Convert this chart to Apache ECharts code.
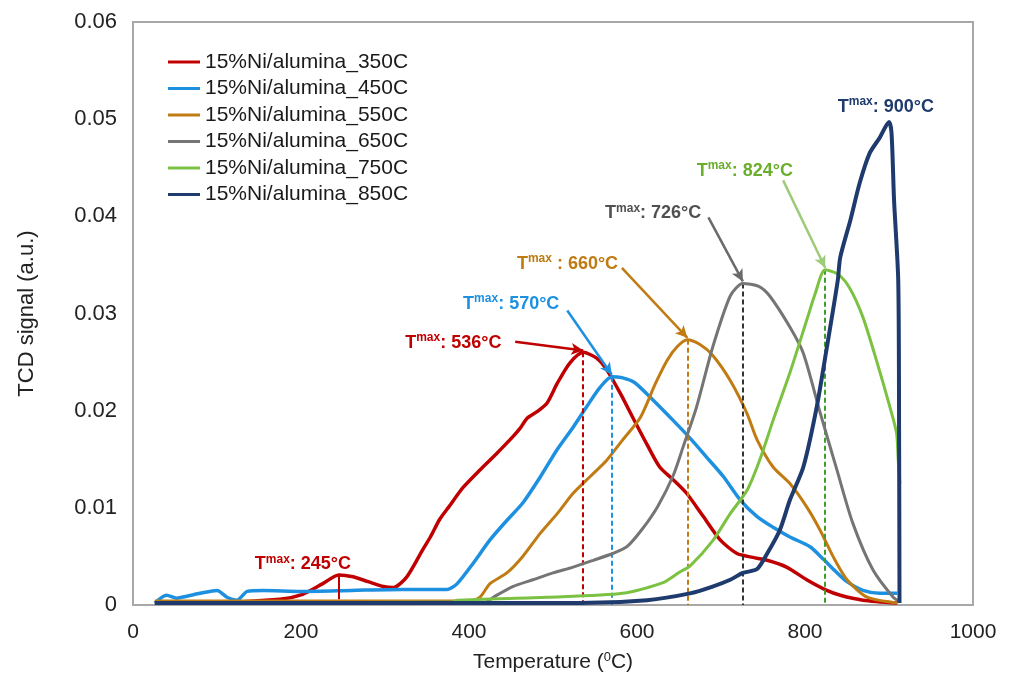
<!DOCTYPE html>
<html>
<head>
<meta charset="utf-8">
<script src="https://cdn.jsdelivr.net/npm/echarts@6/dist/echarts.min.js"></script>
<style>
  html, body { margin: 0; padding: 0; background: #fff; }
  #chart { width: 1010px; height: 675px; }
</style>
</head>
<body>
<div id="chart"></div>
<script>
// TPR profiles: temperature (°C) vs TCD signal (a.u.)
const seriesNames = [
  '15%Ni/alumina_350C', '15%Ni/alumina_450C', '15%Ni/alumina_550C',
  '15%Ni/alumina_650C', '15%Ni/alumina_750C', '15%Ni/alumina_850C'
];

const ni350 = [[26,0.0003],[100,0.0003],[175,0.0006],[202,0.0011],[226,0.0022],[245,0.0031],[262,0.0029],[280,0.0024],[298,0.0019],[310,0.0018],[326,0.0029],[345,0.0057],[354,0.0070],[365,0.0088],[376,0.0101],[393,0.0121],[413,0.0139],[433,0.0156],[452,0.0173],[461,0.0182],[469,0.0192],[481,0.0199],[493,0.0208],[505,0.0228],[520,0.0249],[536,0.0260],[552,0.0254],[564,0.0242],[580,0.0218],[595,0.0193],[612,0.0165],[627,0.0142],[643,0.0129],[659,0.0115],[679,0.0091],[699,0.0067],[719,0.0053],[738,0.0049],[755,0.0046],[778,0.0039],[802,0.0026],[826,0.0015],[842,0.0010],[869,0.0005],[910,0.0002]];

const ni450 = [[26,0.0002],[40,0.0010],[52,0.0007],[64,0.0009],[80,0.0012],[100,0.0015],[112,0.0008],[124,0.0005],[136,0.0014],[155,0.0015],[200,0.0014],[260,0.0015],[320,0.0016],[374,0.0016],[386,0.0022],[405,0.0043],[425,0.0067],[445,0.0087],[464,0.0105],[485,0.0132],[505,0.0160],[524,0.0183],[540,0.0204],[556,0.0224],[570,0.0235],[582,0.0234],[597,0.0229],[619,0.0211],[643,0.0190],[665,0.0170],[683,0.0152],[703,0.0132],[723,0.0108],[743,0.0091],[762,0.0080],[782,0.0070],[806,0.0060],[822,0.0047],[836,0.0035],[850,0.0024],[869,0.0015],[889,0.0012],[910,0.0012]];

const ni550 = [[26,0.0004],[200,0.0004],[400,0.0004],[413,0.0008],[425,0.0022],[445,0.0033],[464,0.0050],[485,0.0074],[505,0.0094],[524,0.0115],[544,0.0132],[564,0.0149],[583,0.0170],[604,0.0193],[622,0.0228],[636,0.0252],[648,0.0266],[660,0.0273],[675,0.0268],[690,0.0257],[711,0.0231],[731,0.0197],[743,0.0170],[762,0.0142],[782,0.0125],[802,0.0101],[818,0.0077],[834,0.0049],[850,0.0026],[874,0.0008],[910,0.0002]];

const ni650 = [[26,0.0002],[420,0.0003],[429,0.0008],[452,0.0019],[476,0.0026],[500,0.0033],[524,0.0039],[548,0.0046],[571,0.0053],[588,0.0060],[607,0.0079],[625,0.0102],[643,0.0133],[655,0.0163],[671,0.0204],[690,0.0265],[711,0.0318],[726,0.0331],[745,0.0328],[758,0.0318],[782,0.0286],[798,0.0259],[818,0.0198],[838,0.0139],[857,0.0084],[881,0.0036],[905,0.0008],[912,0.0004]];

const ni750 = [[26,0.0002],[380,0.0003],[386,0.0005],[493,0.0008],[583,0.0012],[631,0.0023],[651,0.0034],[663,0.0040],[690,0.0066],[711,0.0094],[731,0.0118],[746,0.0149],[762,0.0190],[782,0.0239],[802,0.0293],[812,0.0320],[824,0.0345],[840,0.0340],[854,0.0325],[869,0.0296],[885,0.0252],[901,0.0204],[909,0.0177],[911,0.0149],[913,0.0125]];

const ni850 = [[26,0.0002],[300,0.0002],[532,0.0002],[612,0.0005],[663,0.0012],[690,0.0019],[711,0.0026],[726,0.0033],[743,0.0037],[755,0.0053],[770,0.0077],[782,0.0108],[798,0.0142],[814,0.0204],[826,0.0265],[839,0.0334],[842,0.0358],[854,0.0396],[865,0.0434],[877,0.0465],[889,0.0481],[900,0.0497],[903,0.0486],[906,0.0417],[911,0.0334],[912,0.0177],[912.5,0.0002]];

// peak temperatures quoted in the annotations
const tmax = [536, 570, 660, 726, 824, 900];
const tmaxLow = 245;

const xTicks = [0, 200, 400, 600, 800, 1000];
const yTicks = [0, 0.01, 0.02, 0.03, 0.04, 0.05, 0.06];

const colors = ['#C00000', '#1E90E0', '#C07B12', '#757575', '#7CC242', '#1F3B6E'];
const textColors = ['#C00000', '#1E90E0', '#BF7A10', '#505050', '#6AAE2E', '#1F3B6E'];
const arrowColors = ['#C00000', '#1E90E0', '#C07B12', '#6A6A6A', '#9CCB7A', null];
const dashColors = ['#C00000', '#1E90E0', '#C07B12', '#333333', '#3E9E2A', null];
const widths = [3.5, 3.5, 3, 3, 3, 4];

const allData = [ni350, ni450, ni550, ni650, ni750, ni850];

function yAt(data, x) {
  for (let i = 1; i < data.length; i++) {
    const [x0, y0] = data[i - 1], [x1, y1] = data[i];
    if (x >= x0 && x <= x1) return x1 === x0 ? y1 : y0 + (y1 - y0) * (x - x0) / (x1 - x0);
  }
  return 0;
}

const FONT = 'Liberation Sans, Arial, sans-serif';

// annotation text placement (data coordinates of the text's left edge)
const labelAnchors = [[324, 0.0271], [393, 0.0311], [457, 0.0352], [562, 0.0404], [671, 0.0448], [839, 0.0514]];
const arrowStarts = [[455, 0.0271], [517, 0.0303], [582, 0.0347], [685, 0.0399], [774, 0.0437], null];

function richFor(color) {
  return {
    t: { fontFamily: FONT, fontWeight: 'bold', fontSize: 18, color: color, lineHeight: 20, verticalAlign: 'bottom' },
    s: { fontFamily: FONT, fontWeight: 'bold', fontSize: 12, color: color, lineHeight: 12, verticalAlign: 'top' }
  };
}

const series = allData.map((data, i) => {
  const peakY = yAt(data, tmax[i]);
  const marks = [];
  if (dashColors[i]) {
    marks.push([
      { coord: [tmax[i], peakY], lineStyle: { type: [5, 3], width: 2, color: dashColors[i] } },
      { coord: [tmax[i], 0] }
    ]);
  }
  if (arrowStarts[i]) {
    marks.push([
      { coord: arrowStarts[i], symbol: 'none', lineStyle: { type: 'solid', width: 2.5, color: arrowColors[i] } },
      { coord: [tmax[i], peakY + 0.0002], symbol: 'arrow', symbolSize: [9, 12] }
    ]);
  }
  const points = [{
    coord: labelAnchors[i],
    label: {
      formatter: '{t|T}{s|max}{t|' + (i === 2 ? ' : ' : ': ') + tmax[i] + '°C}',
      rich: richFor(textColors[i])
    }
  }];
  if (i === 0) {
    const lowPeak = yAt(data, tmaxLow);
    marks.push([
      { coord: [tmaxLow, lowPeak], symbol: 'none', lineStyle: { type: 'solid', width: 2, color: colors[0] } },
      { coord: [tmaxLow, 0.0006], symbol: 'none' }
    ]);
    points.push({
      coord: [145, 0.0043],
      label: { formatter: '{t|T}{s|max}{t|: ' + tmaxLow + '°C}', rich: richFor(textColors[0]) }
    });
  }
  return {
    name: seriesNames[i],
    type: 'line',
    data: data,
    symbol: 'none',
    smooth: 0.25,
    lineStyle: { color: colors[i], width: widths[i] },
    itemStyle: { color: colors[i] },
    z: 2 + i,
    animation: false,
    markLine: {
      silent: true,
      animation: false,
      symbol: ['none', 'none'],
      label: { show: false },
      data: marks
    },
    markPoint: {
      silent: true,
      animation: false,
      symbol: 'circle',
      symbolSize: 0,
      label: { show: true, position: 'right', distance: 0 },
      data: points
    }
  };
});

const chart = echarts.init(document.getElementById('chart'), null, { renderer: 'canvas' });
chart.setOption({
  backgroundColor: '#ffffff',
  animation: false,
  grid: {
    left: 133, right: 37, top: 22, bottom: 70,
    outerBoundsMode: 'none',
    show: true, borderColor: '#A8A8A8', borderWidth: 2, backgroundColor: 'transparent'
  },
  legend: {
    orient: 'vertical',
    left: 163, top: 45,
    icon: 'rect',
    itemWidth: 32, itemHeight: 3, itemGap: 2.5,
    textStyle: { fontFamily: FONT, fontSize: 21, color: '#1a1a1a', lineHeight: 24 },
    data: seriesNames.map((n, i) => ({ name: n, itemStyle: { color: colors[i] } }))
  },
  xAxis: {
    type: 'value', min: xTicks[0], max: xTicks[xTicks.length - 1], interval: 200,
    axisLine: { show: true, lineStyle: { color: '#A8A8A8', width: 2 } },
    axisTick: { show: false },
    splitLine: { show: false },
    axisLabel: {
      fontFamily: 'Liberation Sans Narrow, ' + FONT, fontSize: 21, color: '#222', margin: 17,
      formatter: v => String(v)
    },
    name: '{a|Temperature (}{s|0}{a|C)}',
    nameLocation: 'middle', nameGap: 46,
    nameTextStyle: {
      rich: {
        a: { fontFamily: 'Liberation Sans Narrow, ' + FONT, fontSize: 21, color: '#222', lineHeight: 22, verticalAlign: 'bottom' },
        s: { fontFamily: 'Liberation Sans Narrow, ' + FONT, fontSize: 13, color: '#222', lineHeight: 13, verticalAlign: 'top' }
      }
    }
  },
  yAxis: {
    type: 'value', min: yTicks[0], max: yTicks[yTicks.length - 1], interval: 0.01,
    axisLine: { show: true, lineStyle: { color: '#A8A8A8', width: 2 } },
    axisTick: { show: false },
    splitLine: { show: false },
    axisLabel: { fontFamily: FONT, fontSize: 22, color: '#222', margin: 16 },
    name: 'TCD signal (a.u.)',
    nameLocation: 'middle', nameGap: 95, nameRotate: 90,
    nameTextStyle: { fontFamily: FONT, fontSize: 22, color: '#222' }
  },
  series: series
});
</script>
</body>
</html>
